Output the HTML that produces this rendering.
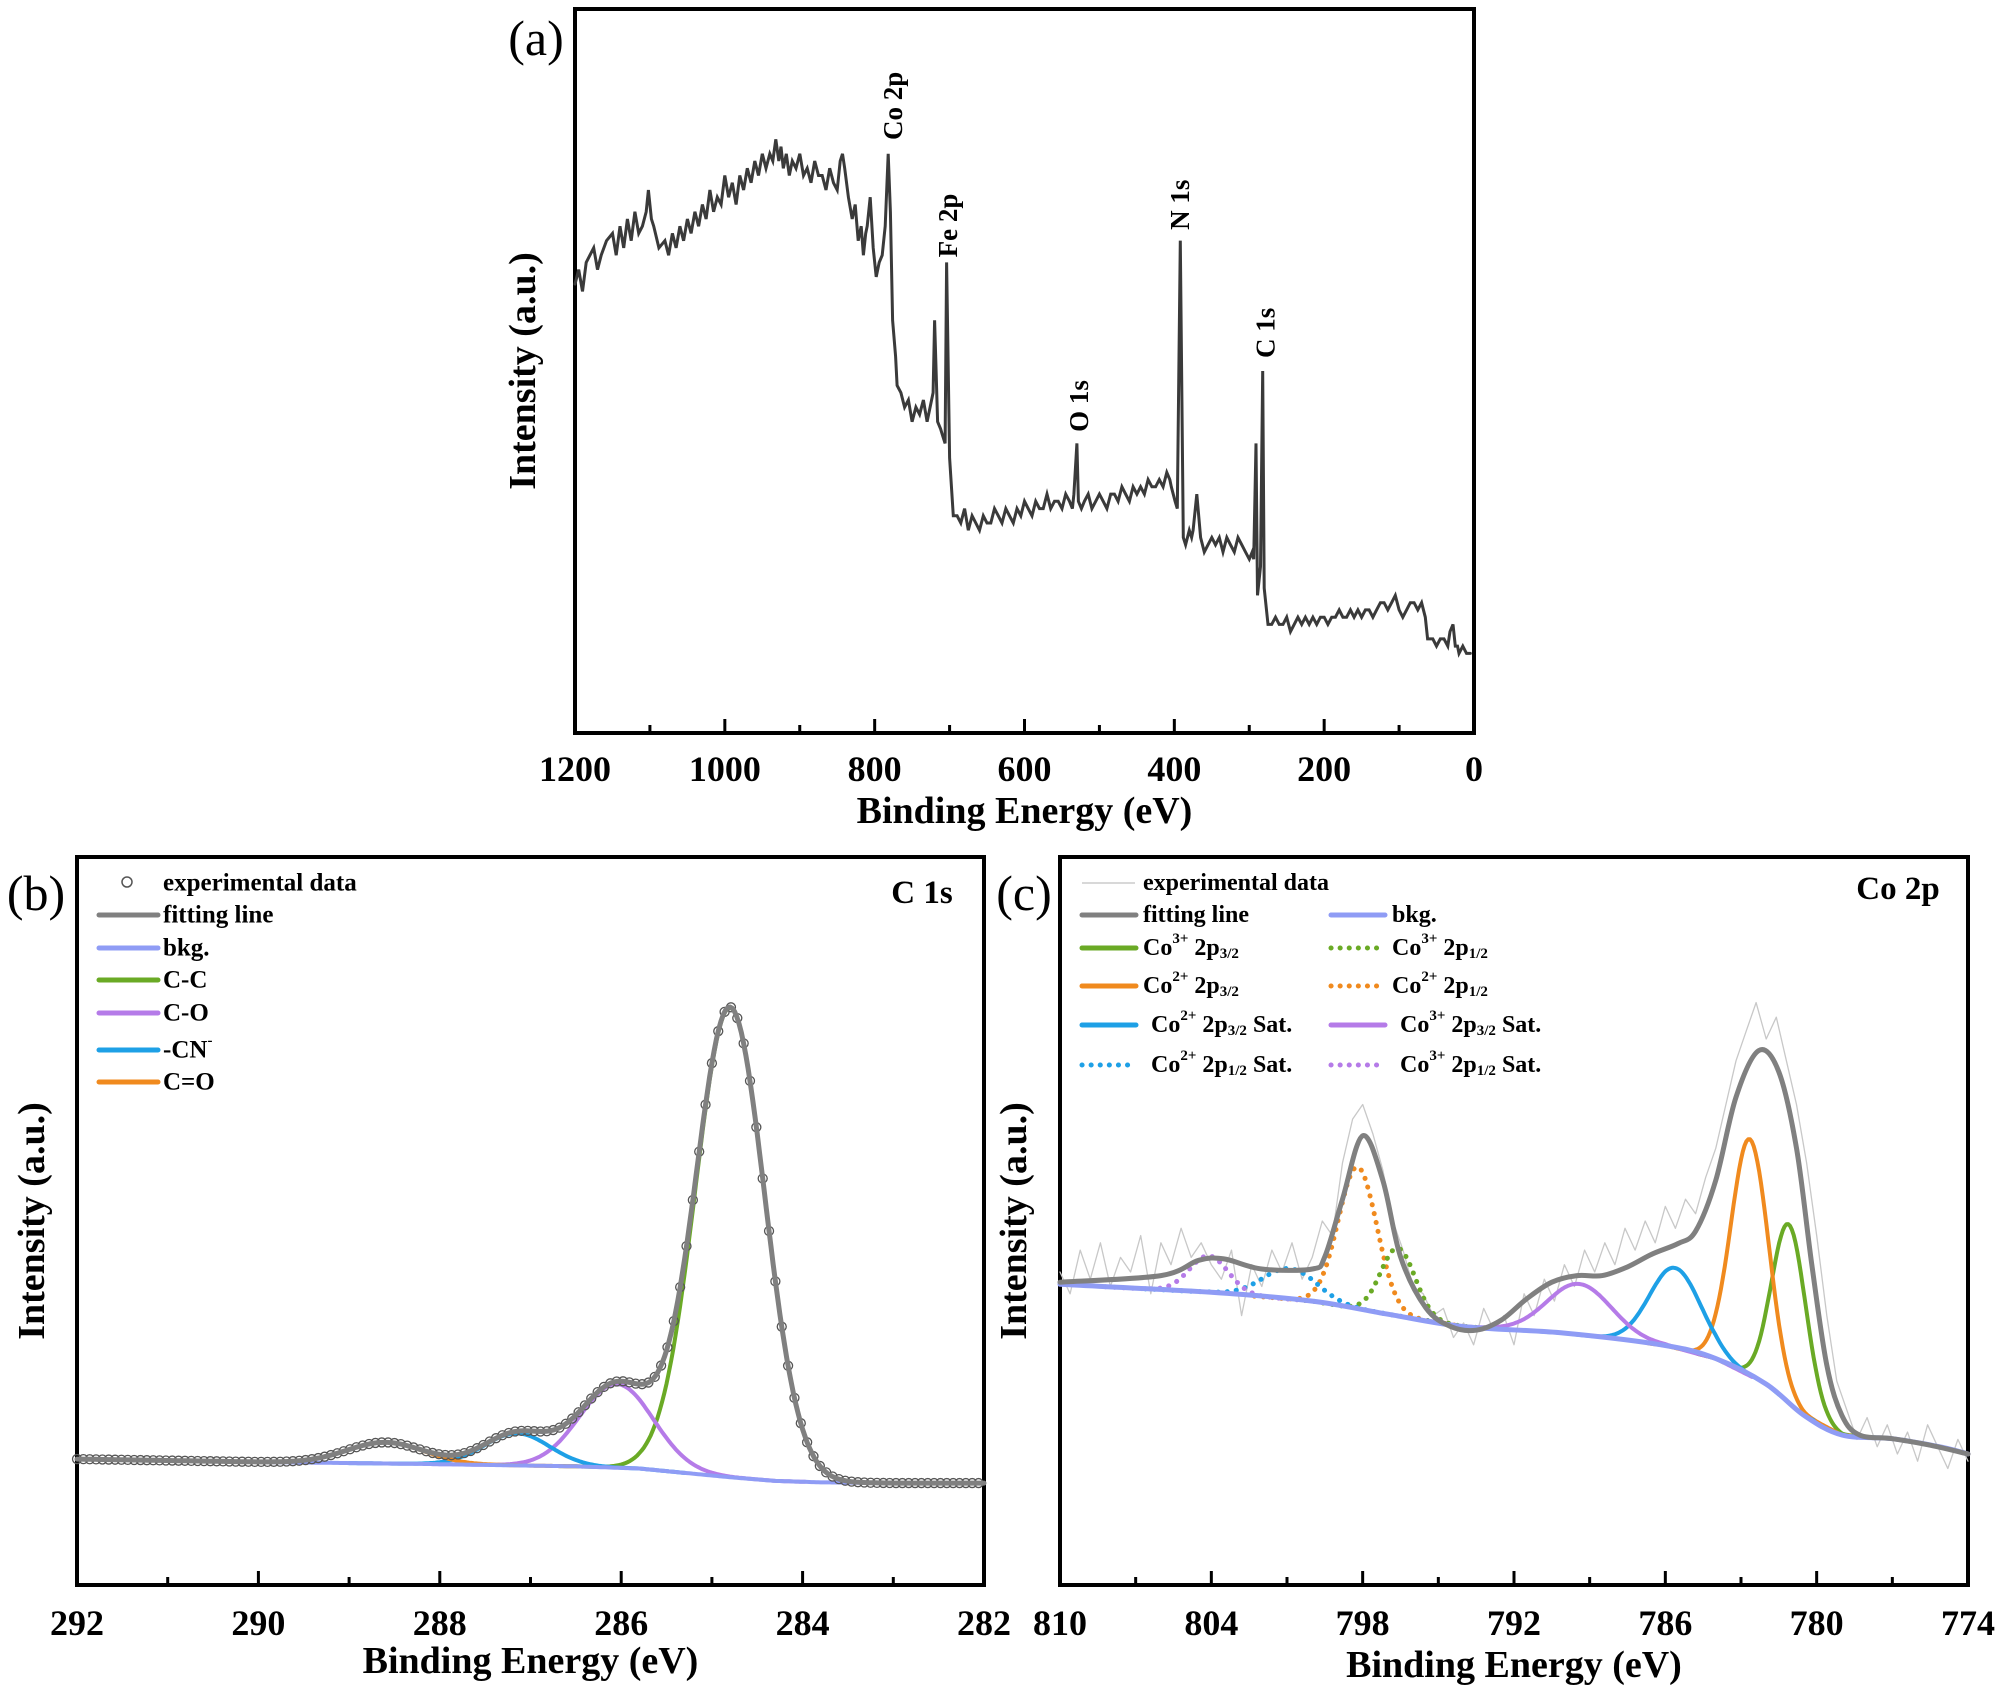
<!DOCTYPE html>
<html><head><meta charset="utf-8"><style>
html,body{margin:0;padding:0;background:#fff;}
svg{display:block;}
svg text{font-family:"Liberation Serif","Times New Roman",Times,serif;}
</style></head><body>
<svg id="fig" width="2000" height="1686" viewBox="0 0 2000 1686" xmlns="http://www.w3.org/2000/svg" font-family="Liberation Serif, Times New Roman, serif"></svg>
<script>
// ---------- Panel (a) survey ----------
const surveyBE = [1200,1195,1190,1185,1175,1170,1165,1158,1150,1145,1140,1135,1130,1125,1120,1115,1110,1105,1102,1098,1095,1088,1080,1075,1070,1065,1060,1055,1050,1045,1040,1035,1030,1025,1020,1015,1010,1005,1000,995,990,985,980,975,970,965,960,955,950,945,940,936,932,928,925,922,918,914,910,905,900,895,890,885,880,875,870,865,860,855,850,846,843,840,835,830,826,822,818,815,812,810,806,802,798,794,790,786,782,779,776,772,770,765,760,755,750,745,740,735,730,726,722,720,716,712,709,706,704,700,695,690,685,680,675,670,665,660,655,650,645,640,635,630,625,620,615,610,605,600,595,590,585,580,575,570,565,560,555,550,545,540,536,534,530,528,524,520,515,510,505,500,495,490,485,480,475,470,465,460,455,450,445,440,435,430,425,420,415,410,406,404,399,396,392,388,385,380,377,375,370,365,360,355,350,345,340,335,330,325,320,315,310,305,300,296,294,291,289,285,282,280,275,270,265,260,255,250,245,240,235,230,225,220,215,210,205,200,195,190,185,180,175,170,165,160,155,150,145,140,135,130,125,120,115,110,105,100,95,90,85,80,75,70,65,62,60,55,50,45,40,35,32,28,25,22,20,15,10,5,0];
const surveyI = [62,64,61,65,67,64,66,68,69,66,70,67,71,68,72,69,70,72,75,71,70,67,68,66,69,67,70,68,71,69,72,70,73,71,75,72,74,73,77,74,76,73,77,75,78,76,79,77,80,78,80,79,82,79,81,78,80,77,79,78,80,77,78,76,79,77,77,75,78,76,75,79,80,78,74,71,73,68,70,66,69,70,74,67,63,65,66,70,80,72,57,52,48,47,45,46,43,45,44,46,43,45,47,57,43,42,41,40,65,38,30,30,29,31,28,30,29,28,30,29,29,31,30,29,31,30,29,31,30,32,31,30,32,31,31,33,31,32,32,31,33,32,31,33,40,32,31,32,33,31,32,33,32,31,33,33,32,34,33,32,34,33,34,33,35,34,34,35,34,36,35,34,32,31,68,27,26,28,27,28,33,27,25,26,27,26,27,25,27,26,25,27,26,25,24,25,24,40,19,23,50,20,15,15,16,15,15,16,14,15,16,15,16,15,16,15,16,16,15,16,16,17,16,16,17,16,17,16,17,17,16,17,18,18,17,18,19,17,16,17,18,18,17,18,16,13,13,13,12,13,13,12,14,15,12,12,11,12,11,11];
const surveyTicks = [1200,1000,800,600,400,200,0];
const surveyMinor = [1100,900,700,500,300,100];
const surveyPeakLabels = ["Co 2p","Fe 2p","O 1s","N 1s","C 1s"];
const surveyPeakBE = [782,709,534,399,285];
const surveyPeakLabelBottom = [81.9,65.7,41.6,69.5,51.8];

// ---------- Panel (b) C 1s ----------
const c1sBkgBE = [292,290,288,286.5,285.8,285.3,284.8,284.3,283.8,283,282];
const c1sBkgI = [17.3,16.9,16.6,16.3,16.0,15.4,14.8,14.3,14.1,14.0,14.0];
const c1sNames = ["C-C","C-O","-CN-","C=O"];
const c1sCenter = [284.8,286.05,287.15,288.6];
const c1sHeight = [64.5,11.5,4.4,2.9];
const c1sFwhm = [0.9,0.95,0.85,1.0];
const c1sColors = ["#6aaa25","#b57be8","#1ea0e6","#f08a1e"];
const c1sTicks = [292,290,288,286,284,282];
const c1sMinor = [291,289,287,285,283];

// ---------- Panel (c) Co 2p ----------
const coBkgBE = [810,804,800,797,794,790,786,784,782,780.5,779,777,775,774];
const coBkgI = [41.3,40.2,39,37.2,35.5,34.6,32.9,31.1,27.6,23.3,20.6,20.1,18.9,18];
const coNames = ["Co3+ 2p3/2","Co2+ 2p3/2","Co2+ 2p3/2 Sat.","Co3+ 2p3/2 Sat.","Co2+ 2p1/2","Co3+ 2p1/2","Co2+ 2p1/2 Sat.","Co3+ 2p1/2 Sat."];
const coCenter = [781.1,782.65,785.6,789.4,798.2,796.6,800.9,804.1];
const coHeight = [24.5,32.5,11,7,19.5,9.3,4.2,5];
const coFwhm = [1.6,1.75,2.4,3.0,1.8,1.6,2.5,1.8];
const coColors = ["#6aaa25","#f08a1e","#1ea0e6","#b57be8","#f08a1e","#6aaa25","#1ea0e6","#b57be8"];
const coDotted = [false,false,false,false,true,true,true,true];
const coFitBE = [810,806,804.5,803.5,802,800,799.5,798.8,798,797.2,796.5,795.5,794.5,793.5,792.5,791.5,790.5,789.5,788.5,787.5,786.5,785.5,784.8,784,783.2,782.3,781.5,780.8,780.2,779.6,779,778.3,777,775.5,774];
const coFitI = [41.6,42.5,44.6,44.8,43.4,43.4,45.1,53,61.7,55.6,45.1,38.1,35.5,35,36.4,39.3,41.6,42.5,42.5,43.7,45.5,46.9,48.6,55.6,67,73.4,70.5,60,44.2,30.2,23.3,20.6,20.1,19.2,18];
const coExpBE = [810,809.6,809.2,808.8,808.4,808,807.6,807.2,806.8,806.4,806,805.6,805.2,804.8,804.4,804,803.6,803.2,802.8,802.4,802,801.6,801.2,800.8,800.4,800,799.6,799.2,798.8,798.4,798,797.6,797.2,796.8,796.4,796,795.6,795.2,794.8,794.4,794,793.6,793.2,792.8,792.4,792,791.6,791.2,790.8,790.4,790,789.6,789.2,788.8,788.4,788,787.6,787.2,786.8,786.4,786,785.6,785.2,784.8,784.4,784,783.6,783.2,782.8,782.4,782,781.6,781.2,780.8,780.4,780,779.6,779.2,778.8,778.4,778,777.6,777.2,776.8,776.4,776,775.6,775.2,774.8,774.4,774];
const coExpI = [43,40,46,42,47,41,45,43,48,40,47,44,49,45,47,44,42,46,37,44,41,46,43,47,42,45,50,48,58,64,66,62,57,50,46,41,40,37,38,34,36,33,38,35,37,33,40,37,42,39,44,41,46,43,47,44,49,46,50,47,52,49,53,51,56,60,66,72,76,80,75,78,72,66,58,48,37,28,24,20,23,19,22,18,21,17,22,19,16,20,17];

const svg = document.getElementById('fig');
const NS = 'http://www.w3.org/2000/svg';
const FONT = '"Liberation Serif", "Times New Roman", serif';
function mk(tag, attrs, parent){ const e=document.createElementNS(NS,tag); for(const k in attrs) e.setAttribute(k,attrs[k]); (parent||svg).appendChild(e); return e; }
function txt(x,y,s,size,parent,anchor,rot){ const e=mk('text',{x:x,y:y,'font-size':size,'text-anchor':anchor||'middle','dominant-baseline':'central','font-weight':'bold','font-family':FONT},parent); if(rot) e.setAttribute('transform','rotate(-90 '+x+' '+y+')'); e.innerHTML=s; return e; }
function interp(xs, ys, x){ for(let i=0;i<xs.length-1;i++){ const a=xs[i],b=xs[i+1]; if((x<=a&&x>=b)||(x>=a&&x<=b)){ const t=(x-a)/(b-a); return ys[i]+t*(ys[i+1]-ys[i]); } } return ys[ys.length-1]; }
function gauss(x,c,h,w){ return h*Math.exp(-4*Math.LN2*Math.pow((x-c)/w,2)); }

function frame(name, L,T,R,B, ticks, minor, xs, ys, tickY, titleY, ytitleX){
  const g = mk('g',{});
  
  
  const box = mk('rect',{x:L,y:T,width:R-L,height:B-T,fill:'none',stroke:'#000','stroke-width':4},g);
   
  ticks.forEach(v=>{ const x=xs(v); mk('line',{x1:x,y1:B,x2:x,y2:B-14,stroke:'#000','stroke-width':3},g);
    const t=txt(x,tickY,String(v),36,g);   });
  minor.forEach(v=>{ const x=xs(v); mk('line',{x1:x,y1:B,x2:x,y2:B-8,stroke:'#000','stroke-width':3},g); });
  const xt = txt((L+R)/2,titleY,'Binding Energy (eV)',38,g);  
  const yt = txt(ytitleX,(T+B)/2,'Intensity (a.u.)',38,g,'middle',true);  
  return g;
}
function path(pts, attrs, g){ return mk('path',Object.assign({d:'M'+pts.map(p=>p[0].toFixed(1)+','+p[1].toFixed(1)).join('L'),fill:'none','stroke-linejoin':'round','stroke-linecap':'round'},attrs),g); }
function smoothPath(pts, attrs, g){
  let d='M'+pts[0][0].toFixed(1)+','+pts[0][1].toFixed(1);
  for(let i=0;i<pts.length-1;i++){ const p0=pts[Math.max(0,i-1)],p1=pts[i],p2=pts[i+1],p3=pts[Math.min(pts.length-1,i+2)];
    const c1=[p1[0]+(p2[0]-p0[0])/6,p1[1]+(p2[1]-p0[1])/6], c2=[p2[0]-(p3[0]-p1[0])/6,p2[1]-(p3[1]-p1[1])/6];
    d+='C'+c1[0].toFixed(1)+','+c1[1].toFixed(1)+' '+c2[0].toFixed(1)+','+c2[1].toFixed(1)+' '+p2[0].toFixed(1)+','+p2[1].toFixed(1); }
  return mk('path',Object.assign({d:d,fill:'none','stroke-linejoin':'round','stroke-linecap':'round'},attrs),g);
}

// ===== Panel a =====
(function(){
  const L=575,R=1474,T=9,B=733;
  const xs=v=>L+(1200-v)/1200*(R-L), ys=v=>B-v/100*(B-T);
  const g=frame('survey-panel',L,T,R,B,surveyTicks,surveyMinor,xs,ys,769,811,523);
  const p=path(surveyBE.map((b,i)=>[xs(b),ys(surveyI[i])]),{stroke:'#3a3a3a','stroke-width':3,'stroke-linejoin':'miter'},g);
   
  surveyPeakLabels.forEach((s,i)=>{ const x=xs(surveyPeakBE[i])+5; const y=ys(surveyPeakLabelBottom[i]);
    const t=mk('text',{x:x,y:y,'font-size':27,'text-anchor':'start','dominant-baseline':'central','font-weight':'bold','font-family':FONT,transform:'rotate(-90 '+x+' '+y+')'},g);
    t.textContent=s;   });
  const pl=txt(536,38,'(a)',50,g); pl.setAttribute('font-weight','normal');  
})();

// ===== Panel b =====
(function(){
  const L=77,R=984,T=857,B=1585;
  const xs=v=>L+(292-v)/10*(R-L), ys=v=>B-v/100*(B-T);
  const g=frame('c1s-panel',L,T,R,B,c1sTicks,c1sMinor,xs,ys,1623,1661,32);
  const N=400, bes=[]; for(let i=0;i<=N;i++) bes.push(292-10*i/N);
  const bk=b=>interp(c1sBkgBE,c1sBkgI,b);
  c1sCenter.forEach((c,k)=>{ const lo=c-2.2*c1sFwhm[k], hi=c+2.2*c1sFwhm[k];
    const pts=bes.filter(b=>b>=lo&&b<=hi).map(b=>[xs(b),ys(bk(b)+gauss(b,c,c1sHeight[k],c1sFwhm[k]))]);
    const p=path(pts,{stroke:c1sColors[k],'stroke-width':4},g);   });
  const bp=path(bes.map(b=>[xs(b),ys(bk(b))]),{stroke:'#8f9cf5','stroke-width':4},g);  
  const fit=b=>bk(b)+c1sCenter.reduce((s,c,k)=>s+gauss(b,c,c1sHeight[k],c1sFwhm[k]),0);
  const fg=mk('g',{},g);  
  for(let b=292;b>=282;b-=0.07){ mk('circle',{cx:xs(b),cy:ys(fit(b)),r:4.5,fill:'none',stroke:'#555','stroke-width':1.3},fg); }
  const fp=path(bes.map(b=>[xs(b),ys(fit(b))]),{stroke:'#808080','stroke-width':5},g);  
  const lg=mk('g',{},g);  
  mk('circle',{cx:127,cy:882,r:5,fill:'none',stroke:'#555','stroke-width':1.5},lg);
  txt(163,883,'experimental data',25,lg,'start');
  const rows=[['fitting line','#808080',915],['bkg.','#8f9cf5',948],['C-C','#6aaa25',980],['C-O','#b57be8',1013],['-CN<tspan font-size="15" dy="-9">-</tspan>','#1ea0e6',1050],['C=O','#f08a1e',1082]];
  rows.forEach(r=>{ mk('line',{x1:99,y1:r[2],x2:158,y2:r[2],stroke:r[1],'stroke-width':5,'stroke-linecap':'round'},lg); const t=txt(163,r[2],r[0],25,lg,'start');   });
  const ct=txt(922,893,'C 1s',33,g);  
  const pl=txt(36,893,'(b)',50,g); pl.setAttribute('font-weight','normal');  
})();

// ===== Panel c =====
(function(){
  const L=1060,R=1968,T=857,B=1585;
  const xs=v=>L+(810-v)/36*(R-L), ys=v=>B-v/100*(B-T);
  const g=frame('co2p-panel',L,T,R,B,[810,804,798,792,786,780,774],[807,801,795,789,783,777],xs,ys,1623,1665,1014);
  const ep=path(coExpBE.map((b,i)=>[xs(b),ys(coExpI[i])]),{stroke:'#c8c8c8','stroke-width':1.3},g);  
  const N=500, bes=[]; for(let i=0;i<=N;i++) bes.push(810-36*i/N);
  const bk=b=>interp(coBkgBE,coBkgI,b);
  coCenter.forEach((c,k)=>{ const lo=c-2.3*coFwhm[k], hi=c+2.3*coFwhm[k];
    const pts=bes.filter(b=>b>=lo&&b<=hi).map(b=>[xs(b),ys(bk(b)+gauss(b,c,coHeight[k],coFwhm[k]))]);
    const a={stroke:coColors[k],'stroke-width':4};
    if(coDotted[k]){ a['stroke-dasharray']='0.1 9'; a['stroke-width']=5; }
    const p=path(pts,a,g);   });
  const bp=smoothPath(coBkgBE.map((b,i)=>[xs(b),ys(coBkgI[i])]),{stroke:'#8f9cf5','stroke-width':5},g);  
  const fp=smoothPath(coFitBE.map((b,i)=>[xs(b),ys(coFitI[i])]),{stroke:'#808080','stroke-width':5},g);  
  const lg=mk('g',{},g);  
  mk('line',{x1:1082,y1:883,x2:1135,y2:883,stroke:'#ccc','stroke-width':1.5},lg);
  txt(1143,883,'experimental data',24,lg,'start');
  const sup=(a,b,c)=>'Co<tspan font-size="15" dy="-9">'+a+'</tspan><tspan dy="9"> 2p</tspan><tspan font-size="15" dy="6">'+b+'</tspan><tspan dy="-6">'+c+'</tspan>';
  const rows=[
    ['fitting line','#808080',false,1080,915],['bkg.','#8f9cf5',false,1329,915],
    [sup('3+','3/2',''),'#6aaa25',false,1080,948],[sup('3+','1/2',''),'#6aaa25',true,1329,948],
    [sup('2+','3/2',''),'#f08a1e',false,1080,986],[sup('2+','1/2',''),'#f08a1e',true,1329,986],
    [' '+sup('2+','3/2',' Sat.'),'#1ea0e6',false,1080,1025],[' '+sup('3+','3/2',' Sat.'),'#b57be8',false,1329,1025],
    [' '+sup('2+','1/2',' Sat.'),'#1ea0e6',true,1080,1065],[' '+sup('3+','1/2',' Sat.'),'#b57be8',true,1329,1065]];
  rows.forEach(r=>{ const a={x1:r[3]+2,y1:r[4],x2:r[3]+56,y2:r[4],stroke:r[1],'stroke-width':5,'stroke-linecap':'round'};
    if(r[2]){ a['stroke-dasharray']='0.1 9'; }
    mk('line',a,lg); const t=txt(r[3]+63+(r[0].startsWith(' ')?8:0),r[4],r[0].trim(),24,lg,'start');   });
  const ct=txt(1898,889,'Co 2p',33,g);  
  const pl=txt(1024,893,'(c)',50,g); pl.setAttribute('font-weight','normal');  
})();
</script>
</body></html>
